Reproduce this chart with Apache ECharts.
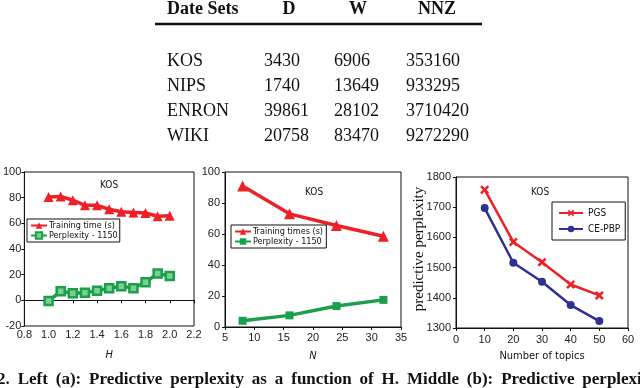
<!DOCTYPE html>
<html>
<head>
<meta charset="utf-8">
<script src="https://cdn.jsdelivr.net/npm/echarts@6/dist/echarts.min.js"></script>
<style>
  html, body { margin: 0; padding: 0; background: #fff; }
  #chart { width: 640px; height: 388px; }
</style>
</head>
<body>
<div id="chart"></div>
<script>
// table data
const dataSets = ['KOS', 'NIPS', 'ENRON', 'WIKI']
const colD = [3430, 1740, 39861, 20758]
const colW = [6906, 13649, 28102, 83470]
const colNNZ = [353160, 933295, 3710420, 9272290]
const tableHeader = ['Date Sets', 'D', 'W', 'NNZ']

// (a) as a function of H
const hVals = [1.0, 1.1, 1.2, 1.3, 1.4, 1.5, 1.6, 1.7, 1.8, 1.9, 2.0]
const hTrain = [80.5, 81, 78, 74, 74, 71, 69, 68.5, 68, 65.5, 66]
const hPerp = [-0.5, 7, 5.5, 6, 7.5, 9.5, 11, 9.5, 14, 21, 19]

// (b) as a function of N
const nVals = [8, 16, 24, 32]
const nTrain = [91, 73, 65.5, 58.5]
const nPerp = [4, 7.5, 13.5, 17.5]

// (c) number of topics
const topics = [10, 20, 30, 40, 50]
const pgs = [1758, 1585, 1518, 1444, 1408]
const cepbp = [1697, 1516, 1453, 1376, 1323]

const caption = '2. Left (a): Predictive perplexity as a function of H. Middle (b): Predictive perplexity'

const RED = '#ee2027'
const GREEN = '#1a9f4a'
const NAVY = '#2e3192'
const SERIF = "'Liberation Serif', 'Times New Roman', serif"
const SANS = "'Liberation Sans Narrow', 'DejaVu Sans Condensed', Roboto, sans-serif"

const pairs = (xs, ys) => xs.map((x, i) => [x, ys[i]])

const chart = echarts.init(document.getElementById('chart'))

// 表格与图注用 graphic 文本
const graphic = []
const headerX = [167, 289, 358, 437]
tableHeader.forEach((h, i) => {
  graphic.push({
    type: 'text', x: headerX[i], y: 9,
    style: { text: h, font: 'bold 18px ' + SERIF, fill: '#111', align: i === 0 ? 'left' : 'center', verticalAlign: 'middle' }
  })
})
graphic.push({
  type: 'line', shape: { x1: 155, y1: 24, x2: 482, y2: 24 },
  style: { stroke: '#111', lineWidth: 2.5 }
})
const tableCols = [167, 264, 334, 406]
const rowY = [61, 86, 111, 136]
dataSets.forEach((name, r) => {
  const cells = [name, colD[r], colW[r], colNNZ[r]]
  cells.forEach((c, i) => {
    graphic.push({
      type: 'text', x: tableCols[i], y: rowY[r],
      style: { text: String(c), font: '18px ' + SERIF, fill: '#111', verticalAlign: 'middle' }
    })
  })
})

// 图注：两端对齐，最后一个词被右边裁掉
const capFont = 'bold 17px ' + SERIF
const ctx = document.createElement('canvas').getContext('2d')
ctx.font = capFont
const capWords = caption.split(' ')
const widths = capWords.map(w => ctx.measureText(w).width)
const capStart = -3, capEnd = 656
const gap = (capEnd - capStart - widths.reduce((a, b) => a + b, 0)) / (capWords.length - 1)
let cx = capStart
capWords.forEach((w, i) => {
  graphic.push({
    type: 'text', x: cx, y: 380,
    style: { text: w, font: capFont, fill: '#111', verticalAlign: 'middle' }
  })
  cx += widths[i] + gap
})

// 第三张图的纵轴标题
graphic.push({
  type: 'text', x: 419, y: 249, rotation: Math.PI / 2,
  style: { text: 'predictive perplexity', font: '15px ' + SERIF, fill: '#111', align: 'center', verticalAlign: 'middle' }
})

const axisLabel = (margin) => ({ color: '#222', fontSize: 11, fontFamily: "'Liberation Sans', sans-serif", margin })
const axisCommon = {
  axisLine: { show: true, lineStyle: { color: '#111', width: 1 } },
  axisTick: { show: true, length: 3, lineStyle: { color: '#111' } },
  splitLine: { show: false }
}

const legendBox = {
  orient: 'vertical',
  backgroundColor: '#fff',
  borderColor: '#111',
  borderWidth: 1,
  borderRadius: 0,
  padding: [2, 2, 2, 3],
  itemGap: 1,
  itemWidth: 16,
  itemHeight: 8,
  textStyle: { fontSize: 9, fontFamily: SANS, color: '#111', padding: [0, 0, 0, -3] }
}

const titleStyle = { fontSize: 10, fontWeight: 'normal', fontFamily: SANS, color: '#111' }

const option = {
  animation: false,
  title: [
    { text: 'KOS', left: 100, top: 180, padding: 0, textStyle: titleStyle },
    { text: 'KOS', left: 305, top: 187, padding: 0, textStyle: titleStyle },
    { text: 'KOS', left: 531, top: 187, padding: 0, textStyle: titleStyle }
  ],
  legend: [
    { ...legendBox, left: 27, top: 219, data: ['Training time (s)', 'Perplexity - 1150'] },
    { ...legendBox, left: 231, top: 225, data: ['Training times (s)', 'Perplexity - 1150 '] },
    { ...legendBox, left: 552, top: 202, padding: [6, 5, 6, 6], itemGap: 6, itemWidth: 24,
      textStyle: { ...legendBox.textStyle, fontSize: 10, padding: [0, 0, 0, 0] }, data: ['PGS', 'CE-PBP'] }
  ],
  grid: [
    { left: 21, top: 172, width: 173, height: 154, show: true, borderColor: '#111', borderWidth: 1 },
    { left: 225, top: 172, width: 176, height: 155, show: true, borderColor: '#111', borderWidth: 1 },
    { left: 456, top: 177, width: 172, height: 151, show: true, borderColor: '#111', borderWidth: 1 }
  ],
  xAxis: [
    { ...axisCommon, type: 'value', gridIndex: 0, min: 0.8, max: 2.2, interval: 0.2,
      axisLabel: { ...axisLabel(3), formatter: v => v.toFixed(1) },
      name: 'H', nameLocation: 'middle', nameGap: 24,
      nameTextStyle: { fontStyle: 'italic', fontSize: 11, fontFamily: SANS, color: '#111' } },
    { ...axisCommon, type: 'value', gridIndex: 1, min: 5, max: 35, interval: 5,
      axisLabel: axisLabel(5),
      name: 'N', nameLocation: 'middle', nameGap: 24,
      nameTextStyle: { fontStyle: 'italic', fontSize: 11, fontFamily: SANS, color: '#111' } },
    { ...axisCommon, type: 'value', gridIndex: 2, min: 0, max: 60, interval: 10,
      axisLabel: axisLabel(6),
      name: 'Number of topics', nameLocation: 'middle', nameGap: 23,
      nameTextStyle: { fontSize: 11, fontFamily: SANS, color: '#111' } }
  ],
  yAxis: [
    { ...axisCommon, type: 'value', gridIndex: 0, min: -20, max: 100, interval: 20, axisLabel: axisLabel(3) },
    { ...axisCommon, type: 'value', gridIndex: 1, min: 0, max: 100, interval: 20, axisLabel: axisLabel(5) },
    { ...axisCommon, type: 'value', gridIndex: 2, min: 1300, max: 1800, interval: 100,
      axisLabel: { ...axisLabel(5), formatter: v => String(v) } }
  ],
  series: [
    { name: 'Training time (s)', type: 'line', xAxisIndex: 0, yAxisIndex: 0, data: pairs(hVals, hTrain),
      symbol: 'triangle', symbolSize: 10, color: RED, lineStyle: { width: 3.5 } },
    { name: 'Perplexity - 1150', type: 'line', xAxisIndex: 0, yAxisIndex: 0, data: pairs(hVals, hPerp),
      symbol: 'rect', symbolSize: 8, lineStyle: { width: 3.5, color: GREEN },
      itemStyle: { borderWidth: 2.5, color: '#7ccf93', borderColor: GREEN } },
    { name: 'Training times (s)', type: 'line', xAxisIndex: 1, yAxisIndex: 1, data: pairs(nVals, nTrain),
      symbol: 'triangle', symbolSize: 11, color: RED, lineStyle: { width: 3.5 } },
    { name: 'Perplexity - 1150 ', type: 'line', xAxisIndex: 1, yAxisIndex: 1, data: pairs(nVals, nPerp),
      symbol: 'rect', symbolSize: 8, color: GREEN, lineStyle: { width: 3.5 } },
    { name: 'PGS', type: 'line', xAxisIndex: 2, yAxisIndex: 2, data: pairs(topics, pgs),
      symbol: 'path://M0,2L2,0L5,3L8,0L10,2L7,5L10,8L8,10L5,7L2,10L0,8L3,5Z', symbolSize: 9,
      color: RED, lineStyle: { width: 2.5 } },
    { name: 'CE-PBP', type: 'line', xAxisIndex: 2, yAxisIndex: 2, data: pairs(topics, cepbp),
      symbol: 'circle', symbolSize: 8, color: NAVY, lineStyle: { width: 2.5 } }
  ],
  graphic
}

chart.setOption(option)
</script>
</body>
</html>
